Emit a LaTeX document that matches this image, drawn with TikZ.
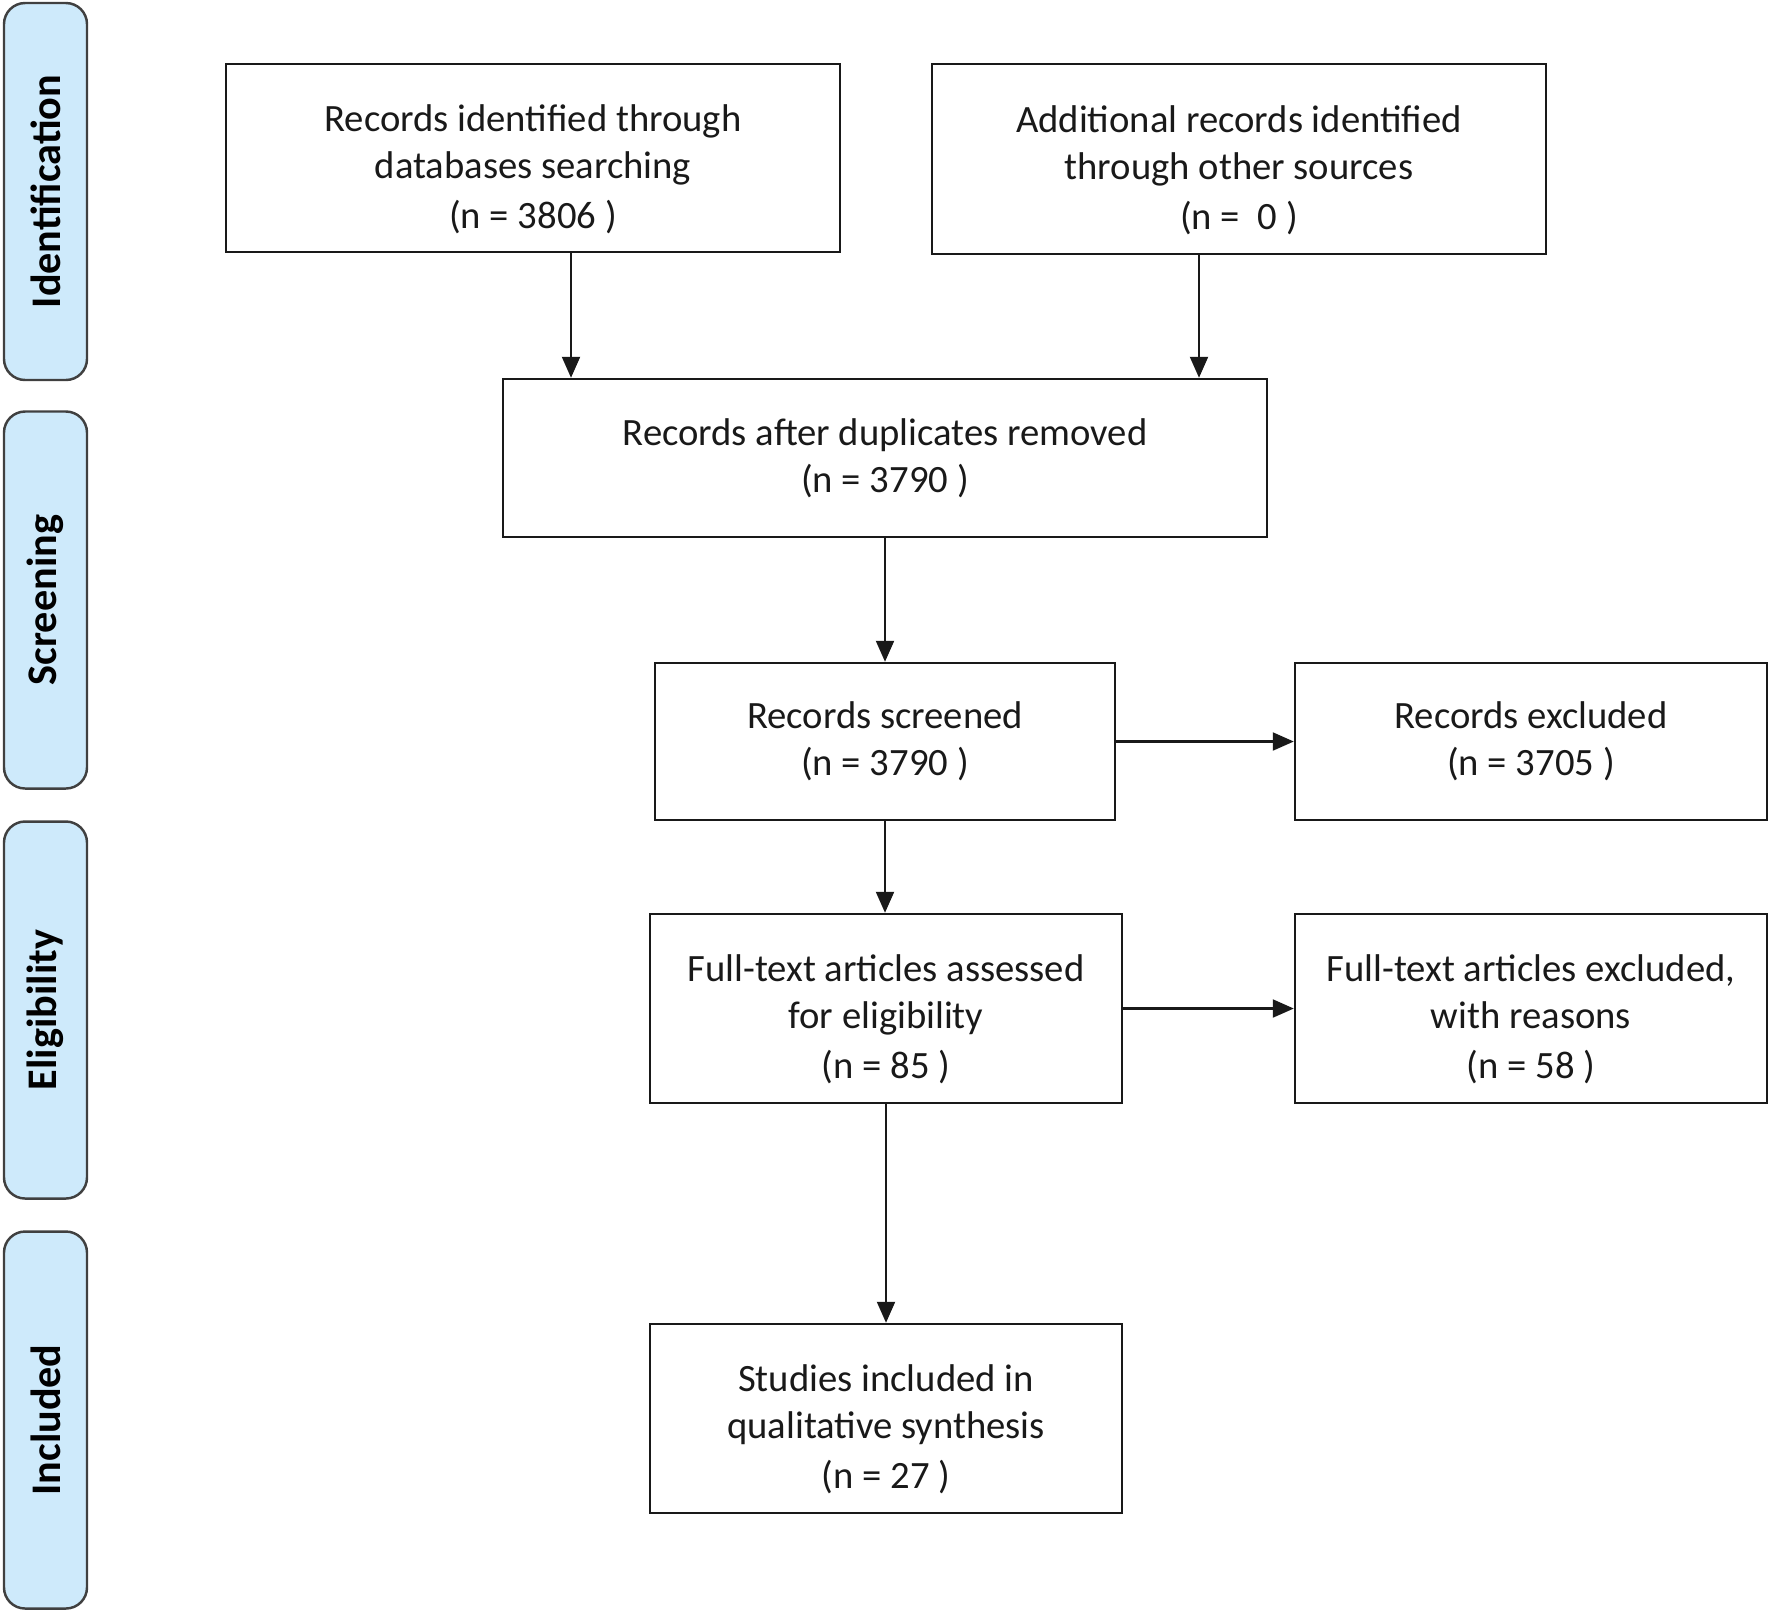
\documentclass[tikz,border=0pt]{standalone}
\usepackage{fontspec}
\setmainfont{Carlito}
\usetikzlibrary{arrows.meta}
\usetikzlibrary{positioning}
\definecolor{stagecol}{RGB}{206,234,251}
\definecolor{inkcol}{RGB}{25,25,25}

\begin{document}
\begin{tikzpicture}[
 box/.style={draw=inkcol, line width=.7pt, align=center, text=inkcol, inner sep=0pt, font=\fontsize{11}{13.3}\selectfont},
 stage/.style={draw=black!75, fill=stagecol, rounded corners=6pt, line width=.7pt, rotate=90, minimum width=3.77cm, minimum height=.83cm, font=\bfseries\fontsize{12}{14}\selectfont},
 arr/.style={draw=inkcol, line width=.6pt, -{Triangle[length=.21cm,width=.18cm]}}]
\useasboundingbox (0,0) rectangle (17.7,-16.13);
% stages
\node[stage] (ident) at (.455,-1.915) {Identification};
\node[stage] (screen) at (.455,-6.0) {Screening};
\node[stage] (elig) at (.455,-10.1) {Eligibility};
\node[stage] (incl) at (.455,-14.2) {Included};
% boxes
\node[box, minimum width=6.14cm, minimum height=1.88cm] (dbrec) at (5.33,-1.58) {\rule{0pt}{14pt}Records identified through\\databases searching\\[1pt](n = 3806 )};
\node[box, minimum width=6.14cm, minimum height=1.9cm] (otherrec) at (12.39,-1.59) {\rule{0pt}{14pt}Additional records identified\\through other sources\\[1pt](n = \ 0 )};
\node[box, minimum width=7.64cm, minimum height=1.58cm] (dupl) at (8.85,-4.58) {Records after duplicates removed\\(n = 3790 )};
\node[box, minimum width=4.6cm, minimum height=1.57cm] (screened) at (8.85,-7.415) {Records screened\\(n = 3790 )};
\node[box, minimum width=4.72cm, minimum height=1.57cm] (excl) at (15.31,-7.415) {Records excluded\\(n = 3705 )};
\node[box, minimum width=4.72cm, minimum height=1.89cm] (fulltext) at (8.86,-10.085) {\rule{0pt}{14pt}Full-text articles assessed\\for eligibility\\[1pt](n = 85 )};
\node[box, minimum width=4.72cm, minimum height=1.89cm] (ftexcl) at (15.31,-10.085) {\rule{0pt}{14pt}Full-text articles excluded,\\with reasons\\[1pt](n = 58 )};
\node[box, minimum width=4.72cm, minimum height=1.89cm] (studies) at (8.86,-14.185) {\rule{0pt}{14pt}Studies included in\\qualitative synthesis\\[1pt](n = 27 )};
% arrows
\coordinate (leftx) at (5.71,0);
\coordinate (rightx) at (11.99,0);
\draw[arr] (dbrec.south -| leftx) -- (dupl.north -| leftx);
\draw[arr] (otherrec.south -| rightx) -- (dupl.north -| rightx);
\draw[arr] (dupl.south -| screened) -- (screened.north);
\draw[arr] (screened) -- (fulltext.north -| screened);
\draw[arr] (fulltext) -- (studies.north -| fulltext);
\draw[arr] (screened.east) -- (excl.west);
\draw[arr] (fulltext.east) -- (ftexcl.west);
\end{tikzpicture}
\end{document}
